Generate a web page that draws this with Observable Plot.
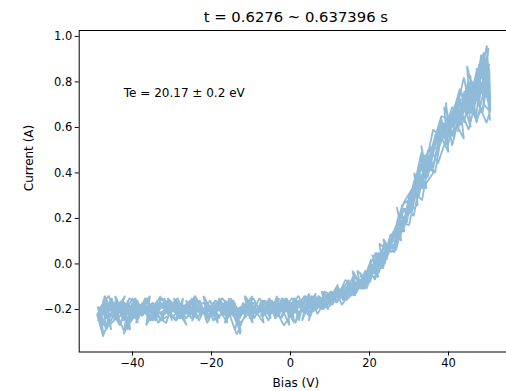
<!DOCTYPE html>
<html>
<head>
<meta charset="utf-8">
<script src="https://cdn.jsdelivr.net/npm/d3@7"></script>
<script src="https://cdn.jsdelivr.net/npm/@observablehq/plot@0.6"></script>
<style>
  html, body { margin: 0; padding: 0; background: white; overflow: hidden; }
  #chart svg { overflow: hidden; }
</style>
</head>
<body>
<div id="chart"></div>
<script>
const titleText = "t = 0.6276 ~ 0.637396 s";
const xLabel = "Bias (V)";
const yLabel = "Current (A)";
const annotation = "Te = 20.17 ± 0.2 eV";
const annotationPos = {x: -42.2, y: 0.75};
const xTicks = [-40, -20, 0, 20, 40];
const yTicks = [-0.2, 0.0, 0.2, 0.4, 0.6, 0.8, 1.0];
const xDomain = [-53.5, 56.2];
const yDomain = [-0.387, 1.026];

// sweep 1 (up)
const bias1 = [-48.2,-46.1,-43.8,-41.5,-39.2,-36.9,-34.4,-32.1,-29.8,-27.3,-25.0,-22.6,-20.3,-17.9,-15.5,-13.2,-10.8,-8.4,-6.1,-3.7,-1.3,1.1,3.4,5.8,8.2,10.5,12.9,15.3,17.6,20.0,22.4,24.7,27.1,29.5,31.8,34.2,36.6,38.9,41.3,43.7,46.0,48.4,50.3];
const current1 = [-0.23,-0.17,-0.24,-0.20,-0.23,-0.19,-0.22,-0.18,-0.23,-0.20,-0.17,-0.22,-0.19,-0.23,-0.18,-0.21,-0.19,-0.22,-0.18,-0.21,-0.17,-0.20,-0.16,-0.19,-0.15,-0.17,-0.12,-0.13,-0.07,-0.06,0.03,0.04,0.17,0.22,0.36,0.41,0.56,0.57,0.68,0.66,0.79,0.76,0.88];
// sweep 2 (down)
const bias2 = [49.6,47.2,44.9,42.5,40.1,37.8,35.4,33.0,30.7,28.3,25.9,23.6,21.2,18.8,16.5,14.1,11.7,9.4,7.0,4.6,2.3,-0.1,-2.5,-4.8,-7.2,-9.6,-11.9,-14.3,-16.7,-19.0,-21.4,-23.8,-26.1,-28.5,-30.9,-33.2,-35.6,-38.0,-40.3,-42.7,-45.1,-47.4,-48.7];
const current2 = [0.80,0.84,0.70,0.73,0.60,0.62,0.47,0.48,0.29,0.26,0.10,0.07,-0.04,-0.06,-0.13,-0.11,-0.17,-0.14,-0.19,-0.16,-0.22,-0.18,-0.21,-0.16,-0.20,-0.17,-0.22,-0.19,-0.21,-0.16,-0.22,-0.18,-0.22,-0.17,-0.21,-0.18,-0.24,-0.19,-0.22,-0.17,-0.23,-0.19,-0.25];
// sweep 3 (up)
const bias3 = [-48.5,-47.3,-45.0,-42.6,-40.2,-37.9,-35.5,-33.1,-30.8,-28.4,-26.0,-23.7,-21.3,-18.9,-16.6,-14.2,-11.8,-9.5,-7.1,-4.7,-2.4,0.0,2.4,4.7,7.1,9.5,11.8,14.2,16.6,18.9,21.3,23.7,26.0,28.4,30.8,33.1,35.5,37.9,40.2,42.6,44.9,47.3,49.4];
const current3 = [-0.21,-0.31,-0.20,-0.16,-0.22,-0.18,-0.25,-0.19,-0.16,-0.21,-0.19,-0.24,-0.18,-0.21,-0.17,-0.23,-0.20,-0.17,-0.20,-0.18,-0.24,-0.17,-0.19,-0.15,-0.18,-0.13,-0.16,-0.10,-0.13,-0.03,-0.06,0.09,0.07,0.24,0.25,0.43,0.44,0.61,0.59,0.72,0.68,0.86,0.82];
// sweep 4 (down)
const bias4 = [50.1,48.0,45.6,43.2,40.9,38.5,36.1,33.8,31.4,29.0,26.7,24.3,21.9,19.6,17.2,14.8,12.5,10.1,7.7,5.4,3.0,0.6,-1.7,-4.1,-6.5,-8.8,-11.2,-13.6,-15.9,-18.3,-20.7,-23.0,-25.4,-27.8,-30.1,-32.5,-34.9,-37.2,-39.6,-42.0,-44.3,-46.7,-48.9];
const current4 = [0.95,0.74,0.81,0.64,0.69,0.55,0.59,0.40,0.37,0.21,0.16,0.02,0.02,-0.09,-0.08,-0.15,-0.12,-0.18,-0.15,-0.20,-0.17,-0.21,-0.27,-0.19,-0.22,-0.18,-0.21,-0.31,-0.20,-0.23,-0.18,-0.21,-0.16,-0.22,-0.19,-0.23,-0.17,-0.21,-0.18,-0.30,-0.21,-0.16,-0.22];
// sweep 5 (up)
const bias5 = [-48.0,-45.7,-43.3,-40.9,-38.6,-36.2,-33.8,-31.5,-29.1,-26.7,-24.4,-22.0,-19.6,-17.3,-14.9,-12.5,-10.2,-7.8,-5.4,-3.1,-0.7,1.7,4.0,6.4,8.8,11.1,13.5,15.9,18.2,20.6,23.0,25.3,27.7,30.1,32.4,34.8,37.2,39.5,41.9,44.3,46.6,48.9,49.8];
const current5 = [-0.26,-0.22,-0.19,-0.25,-0.20,-0.17,-0.22,-0.20,-0.24,-0.18,-0.20,-0.17,-0.22,-0.19,-0.16,-0.22,-0.18,-0.21,-0.16,-0.20,-0.18,-0.22,-0.18,-0.17,-0.19,-0.14,-0.15,-0.09,-0.11,-0.01,-0.02,0.13,0.11,0.30,0.29,0.50,0.51,0.64,0.62,0.76,0.72,0.93,0.84];
// sweep 6 (down)
const bias6 = [50.6,47.8,45.3,42.9,40.6,38.2,35.8,33.5,31.1,28.7,26.4,24.0,21.6,19.3,16.9,14.5,12.2,9.8,7.4,5.1,2.7,0.3,-2.0,-4.4,-6.8,-9.1,-11.5,-13.9,-16.2,-18.6,-21.0,-23.3,-25.7,-28.1,-30.4,-32.8,-35.2,-37.5,-39.9,-42.3,-44.6,-47.0,-48.6];
const current6 = [0.67,0.88,0.66,0.77,0.63,0.65,0.51,0.46,0.34,0.27,0.15,0.05,0.01,-0.08,-0.10,-0.14,-0.14,-0.16,-0.17,-0.21,-0.18,-0.20,-0.16,-0.21,-0.19,-0.23,-0.18,-0.20,-0.23,-0.18,-0.21,-0.19,-0.23,-0.18,-0.20,-0.22,-0.18,-0.22,-0.19,-0.24,-0.17,-0.21,-0.19];
// sweep 7 (up)
const bias7 = [-48.8,-47.5,-45.6,-44.3,-42.4,-41.0,-39.3,-37.6,-36.0,-34.2,-32.7,-31.0,-29.3,-27.8,-26.0,-24.5,-22.8,-21.1,-19.5,-17.8,-16.2,-14.5,-12.9,-11.2,-9.6,-7.9,-6.3,-4.6,-3.0,-1.3,0.3,2.0,3.6,5.3,6.9,8.6,10.2,11.9,13.5,15.2,16.8,18.5,20.1,21.8,23.4,25.1,26.7,28.4,30.0,31.7,33.3,35.0,36.6,38.3,39.9,41.6,43.2,44.9,46.5,48.2,49.6];
const current7 = [-0.19,-0.27,-0.16,-0.24,-0.18,-0.26,-0.15,-0.23,-0.19,-0.25,-0.17,-0.22,-0.16,-0.24,-0.19,-0.15,-0.23,-0.18,-0.25,-0.17,-0.21,-0.16,-0.24,-0.18,-0.22,-0.15,-0.20,-0.17,-0.23,-0.15,-0.21,-0.16,-0.20,-0.14,-0.19,-0.13,-0.17,-0.11,-0.15,-0.08,-0.12,-0.05,-0.08,0.02,-0.02,0.10,0.06,0.18,0.17,0.31,0.28,0.45,0.40,0.58,0.52,0.70,0.61,0.80,0.68,0.90,0.78];
// sweep 8 (down)
const bias8 = [50.4,49.0,47.1,47.9,45.5,44.0,42.6,43.3,40.8,39.5,37.7,38.4,36.0,34.6,32.9,33.6,31.2,29.8,28.1,28.8,26.4,25.0,23.3,24.0,21.6,20.2,18.5,19.2,16.8,15.4,13.7,14.4,12.0,10.6,8.9,9.6,7.2,5.8,4.1,4.8,2.4,1.0,-0.7,0.0,-2.4,-3.8,-5.5,-4.8,-7.2,-8.6,-10.3,-9.6,-12.0,-13.4,-15.1,-14.4,-16.8,-18.2,-19.9,-19.2,-21.6,-23.0,-24.7,-24.0,-26.4,-27.8,-29.5,-28.8,-31.2,-32.6,-34.3,-33.6,-36.0,-37.4,-39.1,-38.4,-40.8,-42.2,-43.9,-43.2,-45.6,-47.0,-48.4,-47.8];
const current8 = [0.84,0.72,0.86,0.70,0.78,0.62,0.74,0.66,0.66,0.55,0.63,0.57,0.52,0.42,0.47,0.38,0.33,0.25,0.22,0.18,0.13,0.08,0.01,0.06,-0.01,-0.06,-0.10,-0.05,-0.11,-0.14,-0.12,-0.16,-0.13,-0.18,-0.15,-0.20,-0.16,-0.21,-0.17,-0.23,-0.18,-0.15,-0.22,-0.17,-0.20,-0.24,-0.17,-0.21,-0.16,-0.22,-0.19,-0.25,-0.18,-0.21,-0.15,-0.23,-0.19,-0.24,-0.17,-0.20,-0.23,-0.16,-0.21,-0.18,-0.24,-0.19,-0.15,-0.22,-0.18,-0.25,-0.20,-0.16,-0.22,-0.17,-0.26,-0.19,-0.15,-0.23,-0.18,-0.27,-0.20,-0.14,-0.24,-0.18];
// sweep 9 (up)
const bias9 = [-48.6,-47.2,-45.4,-46.1,-43.7,-42.3,-40.5,-41.2,-38.8,-37.4,-35.6,-36.3,-33.9,-32.5,-30.7,-31.4,-29.0,-27.6,-25.8,-26.5,-24.1,-22.7,-20.9,-21.6,-19.2,-17.8,-16.0,-16.7,-14.3,-12.9,-11.1,-11.8,-9.4,-8.0,-6.2,-6.9,-4.5,-3.1,-1.3,-2.0,0.4,1.8,3.6,2.9,5.3,6.7,8.5,7.8,10.2,11.6,13.4,12.7,15.1,16.5,18.3,17.6,20.0,21.4,23.2,22.5,24.9,26.3,28.1,27.4,29.8,31.2,33.0,32.3,34.7,36.1,37.9,37.2,39.6,41.0,42.8,42.1,44.5,45.9,47.7,47.0,49.3,50.5];
const current9 = [-0.24,-0.18,-0.29,-0.21,-0.17,-0.25,-0.19,-0.28,-0.16,-0.22,-0.18,-0.24,-0.19,-0.15,-0.23,-0.20,-0.25,-0.18,-0.21,-0.16,-0.22,-0.19,-0.24,-0.17,-0.20,-0.16,-0.22,-0.26,-0.19,-0.23,-0.17,-0.21,-0.15,-0.20,-0.18,-0.23,-0.17,-0.21,-0.15,-0.19,-0.23,-0.18,-0.14,-0.20,-0.16,-0.20,-0.14,-0.18,-0.12,-0.17,-0.11,-0.15,-0.09,-0.13,-0.06,-0.11,-0.03,-0.07,0.05,-0.01,0.09,0.05,0.19,0.13,0.25,0.21,0.39,0.31,0.47,0.42,0.59,0.50,0.64,0.57,0.73,0.63,0.77,0.66,0.85,0.73,0.90,0.63];
// sweep 10 (down)
const bias10 = [49.8,48.3,46.2,47.0,44.6,43.1,41.0,41.8,39.4,37.9,35.8,36.6,34.2,32.7,30.6,31.4,29.0,27.5,25.4,26.2,23.8,22.3,20.2,21.0,18.6,17.1,15.0,15.8,13.4,11.9,9.8,10.6,8.2,6.7,4.6,5.4,3.0,1.5,-0.6,0.2,-2.2,-3.7,-5.8,-5.0,-7.4,-8.9,-11.0,-10.2,-12.6,-14.1,-16.2,-15.4,-17.8,-19.3,-21.4,-20.6,-23.0,-24.5,-26.6,-25.8,-28.2,-29.7,-31.8,-31.0,-33.4,-34.9,-37.0,-36.2,-38.6,-40.1,-42.2,-41.4,-43.8,-45.3,-47.4,-46.6,-48.8];
const current10 = [0.76,0.92,0.70,0.80,0.65,0.76,0.60,0.68,0.55,0.62,0.46,0.54,0.37,0.44,0.25,0.33,0.18,0.22,0.08,0.14,0.00,0.05,-0.07,-0.02,-0.11,-0.07,-0.14,-0.10,-0.16,-0.12,-0.19,-0.14,-0.20,-0.15,-0.25,-0.18,-0.21,-0.16,-0.23,-0.19,-0.15,-0.22,-0.18,-0.24,-0.17,-0.21,-0.16,-0.23,-0.19,-0.29,-0.18,-0.22,-0.16,-0.23,-0.19,-0.25,-0.18,-0.15,-0.22,-0.17,-0.24,-0.19,-0.16,-0.21,-0.18,-0.25,-0.20,-0.15,-0.22,-0.17,-0.31,-0.20,-0.24,-0.15,-0.22,-0.17,-0.23];
// sweep 11 (up)
const bias11 = [-49.0,-47.4,-48.1,-46.0,-44.5,-45.2,-43.1,-41.6,-42.3,-40.2,-38.7,-39.4,-37.3,-35.8,-36.5,-34.4,-32.9,-33.6,-31.5,-30.0,-30.7,-28.6,-27.1,-27.8,-25.7,-24.2,-24.9,-22.8,-21.3,-22.0,-19.9,-18.4,-19.1,-17.0,-15.5,-16.2,-14.1,-12.6,-13.3,-11.2,-9.7,-10.4,-8.3,-6.8,-7.5,-5.4,-3.9,-4.6,-2.5,-1.0,-1.7,0.4,1.9,1.2,3.3,4.8,4.1,6.2,7.7,7.0,9.1,10.6,9.9,12.0,13.5,12.8,14.9,16.4,15.7,17.8,19.3,18.6,20.7,22.2,21.5,23.6,25.1,24.4,26.5,28.0,27.3,29.4,30.9,30.2,32.3,33.8,33.1,35.2,36.7,36.0,38.1,39.6,38.9,41.0,42.5,41.8,43.9,45.4,44.7,46.8,48.3,47.6,49.7,50.6];
const current11 = [-0.22,-0.32,-0.19,-0.14,-0.24,-0.20,-0.27,-0.17,-0.23,-0.18,-0.26,-0.15,-0.22,-0.17,-0.27,-0.19,-0.14,-0.23,-0.26,-0.18,-0.21,-0.15,-0.24,-0.19,-0.22,-0.16,-0.25,-0.18,-0.23,-0.14,-0.21,-0.26,-0.17,-0.23,-0.15,-0.20,-0.17,-0.30,-0.22,-0.19,-0.14,-0.24,-0.20,-0.16,-0.23,-0.15,-0.22,-0.18,-0.24,-0.17,-0.20,-0.15,-0.21,-0.26,-0.17,-0.13,-0.21,-0.16,-0.20,-0.14,-0.17,-0.12,-0.18,-0.10,-0.15,-0.13,-0.09,-0.14,-0.07,-0.10,-0.03,-0.08,-0.01,-0.06,0.04,0.01,0.11,0.05,0.16,0.10,0.22,0.18,0.31,0.24,0.40,0.33,0.49,0.42,0.57,0.48,0.64,0.55,0.69,0.60,0.75,0.66,0.82,0.68,0.87,0.71,0.91,0.77,0.96,0.70];
// sweep 12 (down)
const bias12 = [50.3,48.6,49.3,47.1,45.5,46.2,44.0,42.4,43.1,40.9,39.3,40.0,37.8,36.2,36.9,34.7,33.1,33.8,31.6,30.0,30.7,28.5,26.9,27.6,25.4,23.8,24.5,22.3,20.7,21.4,19.2,17.6,18.3,16.1,14.5,15.2,13.0,11.4,12.1,9.9,8.3,9.0,6.8,5.2,5.9,3.7,2.1,2.8,0.6,-1.0,-0.3,-2.5,-4.1,-3.4,-5.6,-7.2,-6.5,-8.7,-10.3,-9.6,-11.8,-13.4,-12.7,-14.9,-16.5,-15.8,-18.0,-19.6,-18.9,-21.1,-22.7,-22.0,-24.2,-25.8,-25.1,-27.3,-28.9,-28.2,-30.4,-32.0,-31.3,-33.5,-35.1,-34.4,-36.6,-38.2,-37.5,-39.7,-41.3,-40.6,-42.8,-44.4,-43.7,-45.9,-47.5,-46.8,-48.9];
const current12 = [0.86,0.66,0.79,0.62,0.83,0.70,0.76,0.58,0.67,0.52,0.71,0.60,0.63,0.49,0.55,0.38,0.52,0.44,0.37,0.24,0.31,0.14,0.25,0.19,0.12,0.03,0.08,-0.04,0.04,-0.01,-0.11,-0.04,-0.08,-0.14,-0.08,-0.12,-0.18,-0.11,-0.15,-0.13,-0.20,-0.16,-0.22,-0.15,-0.19,-0.14,-0.25,-0.18,-0.21,-0.15,-0.27,-0.18,-0.23,-0.14,-0.25,-0.19,-0.16,-0.22,-0.15,-0.26,-0.18,-0.23,-0.31,-0.16,-0.21,-0.24,-0.15,-0.22,-0.18,-0.26,-0.17,-0.21,-0.14,-0.20,-0.24,-0.18,-0.25,-0.16,-0.22,-0.15,-0.19,-0.26,-0.18,-0.23,-0.15,-0.21,-0.17,-0.24,-0.16,-0.29,-0.20,-0.14,-0.23,-0.27,-0.17,-0.21,-0.19];
// sweep 13 (up)
const bias13 = [-48.4,-46.8,-47.5,-45.6,-44.0,-44.7,-42.8,-41.2,-41.9,-40.0,-38.4,-39.1,-37.2,-35.6,-36.3,-34.4,-32.8,-33.5,-31.6,-30.0,-30.7,-28.8,-27.2,-27.9,-26.0,-24.4,-25.1,-23.2,-21.6,-22.3,-20.4,-18.8,-19.5,-17.6,-16.0,-16.7,-14.8,-13.2,-13.9,-12.0,-10.4,-11.1,-9.2,-7.6,-8.3,-6.4,-4.8,-5.5,-3.6,-2.0,-2.7,-0.8,0.8,0.1,2.0,3.6,2.9,4.8,6.4,5.7,7.6,9.2,8.5,10.4,12.0,11.3,13.2,14.8,14.1,16.0,17.6,16.9,18.8,20.4,19.7,21.6,23.2,22.5,24.4,26.0,25.3,27.2,28.8,28.1,30.0,31.6,30.9,32.8,34.4,33.7,35.6,37.2,36.5,38.4,40.0,39.3,41.2,42.8,42.1,44.0,45.6,44.9,46.8,48.4,47.7,49.6,50.5];
const current13 = [-0.20,-0.28,-0.16,-0.23,-0.15,-0.25,-0.18,-0.29,-0.21,-0.15,-0.22,-0.26,-0.19,-0.14,-0.23,-0.24,-0.18,-0.21,-0.16,-0.25,-0.19,-0.22,-0.15,-0.24,-0.18,-0.21,-0.15,-0.25,-0.19,-0.22,-0.16,-0.23,-0.18,-0.21,-0.26,-0.16,-0.19,-0.24,-0.28,-0.17,-0.22,-0.15,-0.24,-0.18,-0.21,-0.16,-0.22,-0.19,-0.23,-0.15,-0.20,-0.17,-0.24,-0.19,-0.14,-0.20,-0.25,-0.17,-0.13,-0.19,-0.15,-0.18,-0.12,-0.14,-0.09,-0.13,-0.11,-0.07,-0.12,-0.05,-0.09,-0.03,-0.06,0.02,-0.02,0.05,0.01,0.09,0.06,0.14,0.10,0.19,0.14,0.25,0.22,0.32,0.27,0.38,0.33,0.45,0.41,0.50,0.46,0.55,0.49,0.60,0.56,0.66,0.60,0.70,0.60,0.74,0.64,0.80,0.70,0.62,0.67];
// sweep 14 (down)
const bias14 = [49.0,46.9,47.8,45.1,43.0,43.9,41.2,39.1,40.0,37.3,35.2,36.1,33.4,31.3,32.2,29.5,27.4,28.3,25.6,23.5,24.4,21.7,19.6,20.5,17.8,15.7,16.6,13.9,11.8,12.7,10.0,7.9,8.8,6.1,4.0,4.9,2.2,0.1,1.0,-1.7,-3.8,-2.9,-5.6,-7.7,-6.8,-9.5,-11.6,-10.7,-13.4,-15.5,-14.6,-17.3,-19.4,-18.5,-21.2,-23.3,-22.4,-25.1,-27.2,-26.3,-29.0,-31.1,-30.2,-32.9,-35.0,-34.1,-36.8,-38.9,-38.0,-40.7,-42.8,-41.9,-44.6,-46.7,-45.8,-48.5];
const current14 = [0.70,0.63,0.78,0.59,0.68,0.55,0.64,0.52,0.58,0.44,0.52,0.40,0.33,0.40,0.26,0.22,0.12,0.18,0.05,0.11,0.02,0.03,-0.05,0.00,-0.09,-0.03,-0.11,-0.07,-0.15,-0.11,-0.17,-0.12,-0.19,-0.14,-0.21,-0.16,-0.22,-0.17,-0.26,-0.18,-0.23,-0.15,-0.21,-0.17,-0.26,-0.19,-0.14,-0.22,-0.27,-0.18,-0.21,-0.15,-0.22,-0.19,-0.24,-0.17,-0.21,-0.16,-0.23,-0.27,-0.19,-0.15,-0.22,-0.25,-0.18,-0.21,-0.15,-0.23,-0.19,-0.26,-0.18,-0.14,-0.22,-0.29,-0.19,-0.24];

const biasAll = [bias1, bias2, bias3, bias4, bias5, bias6, bias7, bias8, bias9, bias10, bias11, bias12, bias13, bias14];
const currentAll = [current1, current2, current3, current4, current5, current6, current7, current8, current9, current10, current11, current12, current13, current14];
const data = [];
biasAll.forEach((b, s) => b.forEach((v, i) => {
  if (currentAll[s][i] !== undefined) data.push({bias: v, current: currentAll[s][i]});
}));

const font = "DejaVu Sans, sans-serif";
const chart = Plot.plot({
  width: 506,
  height: 391,
  marginLeft: 78.7,
  marginRight: 506 - 512,
  marginTop: 30,
  marginBottom: 39.5,
  style: {fontFamily: font, fontSize: "11.5px", color: "#000", background: "white"},
  x: {domain: xDomain, ticks: xTicks, tickFormat: d3.format("d"), label: null},
  y: {domain: yDomain, ticks: yTicks, tickFormat: d3.format(".1f"), label: null},
  marks: [
    Plot.line(data, {x: "bias", y: "current", stroke: "#1f77b4", strokeOpacity: 0.5, strokeWidth: 1.8, strokeLinejoin: "miter", curve: "linear"}),
    Plot.frame({stroke: "#000", strokeWidth: 1}),
    Plot.axisX({ticks: xTicks, tickFormat: d3.format("d"), tickSize: 4, tickPadding: 3, fontSize: 11.5, label: null, stroke: "#000"}),
    Plot.axisY({ticks: yTicks, tickFormat: d3.format(".1f"), tickSize: 4, tickPadding: 3, fontSize: 11.5, label: null, stroke: "#000"}),
    Plot.text([annotation], {x: annotationPos.x, y: annotationPos.y, text: d => d, textAnchor: "start", lineAnchor: "middle", fontSize: 12, fill: "#000"}),
    Plot.text([titleText], {frameAnchor: "top", dy: -13, text: d => d, fontSize: 14.8, lineAnchor: "middle", fill: "#000"}),
    Plot.text([xLabel], {frameAnchor: "bottom", dy: 31, text: d => d, fontSize: 12, lineAnchor: "middle", fill: "#000"}),
    Plot.text([yLabel], {frameAnchor: "left", dx: -50, rotate: -90, text: d => d, fontSize: 12, lineAnchor: "middle", fill: "#000"})
  ]
});
document.getElementById("chart").append(chart);
</script>
</body>
</html>
